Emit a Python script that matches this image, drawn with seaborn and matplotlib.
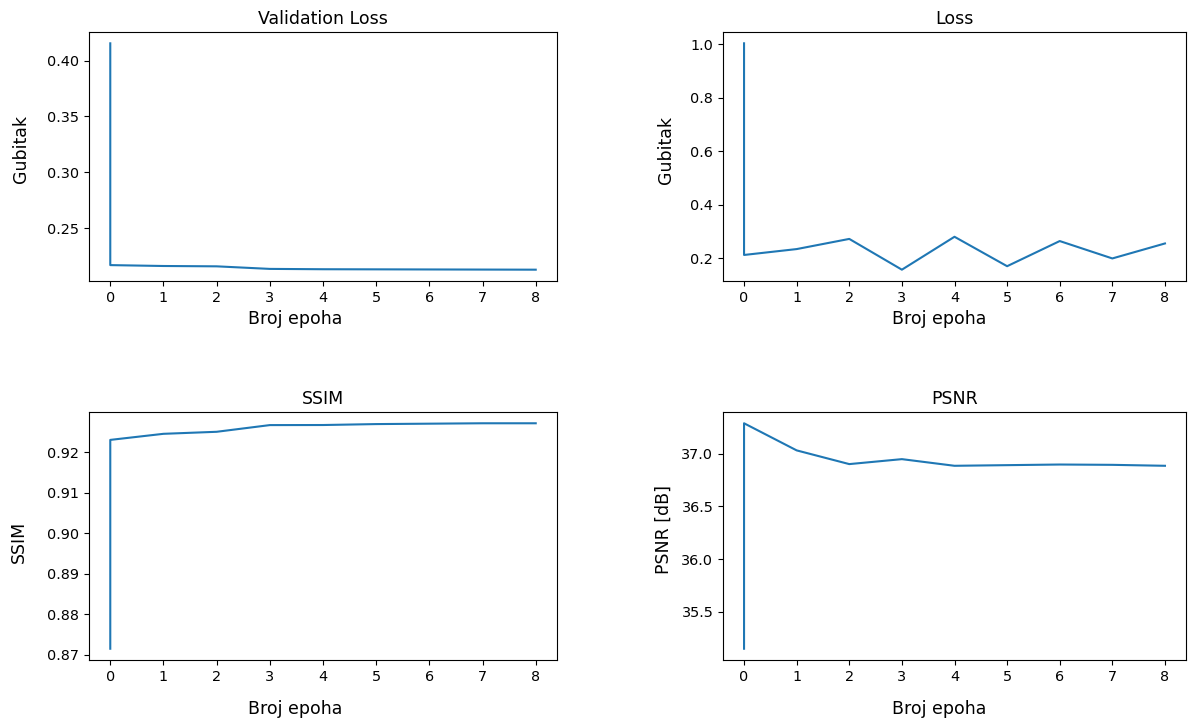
import matplotlib
matplotlib.use("Agg")
import matplotlib.pyplot as plt
import seaborn as sns
import numpy as np

epochs = [0, 0, 1, 2, 3, 4, 5, 6, 7, 8]
val_loss = [0.4155, 0.2168, 0.2160, 0.2157, 0.2134, 0.2131, 0.2130, 0.2129, 0.2128, 0.2127]
train_loss = [1.003, 0.212, 0.234, 0.272, 0.157, 0.280, 0.170, 0.264, 0.199, 0.255]
ssim = [0.8715, 0.9230, 0.9245, 0.9250, 0.92665, 0.92667, 0.9269, 0.9270, 0.9271, 0.9271]
psnr = [35.15, 37.287, 37.03, 36.90, 36.947, 36.884, 36.89, 36.896, 36.893, 36.884]

titles = ["Validation Loss", "Loss", "SSIM", "PSNR"]
ylabels = ["Gubitak", "Gubitak", "SSIM", "PSNR [dB]"]
xlabel = "Broj epoha"
series = [val_loss, train_loss, ssim, psnr]
yticks = [[0.25, 0.30, 0.35, 0.40], [0.2, 0.4, 0.6, 0.8, 1.0],
          [0.87, 0.88, 0.89, 0.90, 0.91, 0.92], [35.5, 36.0, 36.5, 37.0]]

W, H = 1192, 719
fig = plt.figure(figsize=(W / 100, H / 100), dpi=100)
boxes = [(89, 32, 557, 281), (723, 32, 1186, 281), (89, 412, 557, 660), (723, 412, 1186, 660)]
ylab_pos = [(-0.126, 0.529), (-0.104, 0.527), (-0.130, 0.477), (-0.108, 0.526)]
xlab_x = [0.441, 0.468, 0.441, 0.468]
for i, (l, t, r, b) in enumerate(boxes):
    ax = fig.add_axes([l / W, 1 - b / H, (r - l) / W, (b - t) / H])
    sns.lineplot(x=epochs, y=series[i], ax=ax, estimator=None, sort=False,
                 color="#1f77b4", linewidth=1.5)
    ax.set_title(titles[i], fontsize=12.5)
    ax.set_ylabel(ylabels[i], fontsize=12.5)
    ax.yaxis.set_label_coords(*ylab_pos[i])
    ax.set_xlabel(xlabel, fontsize=12.5, labelpad=4 if i < 2 else 12)
    ax.xaxis.label.set_x(xlab_x[i])
    ax.set_xticks(range(0, 9))
    ax.set_yticks(yticks[i])
    ax.tick_params(labelsize=10.4)

fig.savefig("out.png", dpi=100)
